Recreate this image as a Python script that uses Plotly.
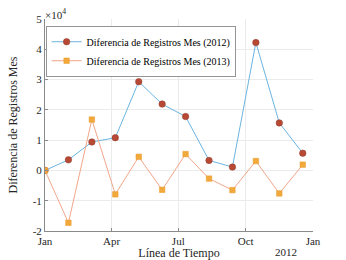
import plotly.graph_objects as go
import pandas as pd

dates = pd.date_range("2012-01-01", periods=12, freq="32D")
serie_2012 = [0, 3500, 9400, 10800, 29300, 21900, 17800, 3300, 1100, 42200, 15700, 5700]
serie_2013 = [0, -17300, 16800, -7900, 4500, -6400, 5400, -2700, -6500, 3100, -7600, 1900]
y_ticks = [-20000, -10000, 0, 10000, 20000, 30000, 40000, 50000]
y_tick_labels = ["-2", "-1", "0", "1", "2", "3", "4", "5"]
x_ticks = ["2012-01-01", "2012-04-01", "2012-07-01", "2012-10-01", "2013-01-01"]
x_tick_labels = ["Jan", "Apr", "Jul", "Oct", "Jan"]

font = "Times New Roman, Liberation Serif, serif"

fig = go.Figure()
fig.add_trace(go.Scatter(
    x=dates, y=serie_2012, mode="lines+markers",
    name="Diferencia de Registros Mes (2012)",
    line=dict(color="#6CB4E0", width=1),
    marker=dict(symbol="circle", size=6.5, color="#B84A35", line=dict(color="#8E3A2A", width=0.5)),
))
fig.add_trace(go.Scatter(
    x=dates, y=serie_2013, mode="lines+markers",
    name="Diferencia de Registros Mes (2013)",
    line=dict(color="#F2A68A", width=1),
    marker=dict(symbol="square", size=5.5, color="#F2A93B", line=dict(color="#E89A2A", width=0.5)),
))

fig.update_layout(
    width=346, height=260,
    margin=dict(l=45, r=33, t=19, b=29),
    paper_bgcolor="white", plot_bgcolor="white",
    font=dict(family=font, size=11, color="#262626"),
    showlegend=True,
    legend=dict(
        x=0.003, y=0.965, xanchor="left", yanchor="top",
        bgcolor="white", bordercolor="#7a7a7a", borderwidth=0.8,
        font=dict(family=font, size=10, color="#000000"),
        tracegroupgap=0, itemwidth=30,
    ),
    xaxis=dict(
        range=["2012-01-01", "2013-01-01"],
        tickvals=x_ticks, ticktext=x_tick_labels,
        tickfont=dict(family=font, size=11),
        showgrid=True, gridcolor="#EBEBEB", gridwidth=1,
        showline=True, linecolor="#8A8A8A", linewidth=1,
        ticks="inside", ticklen=3, tickcolor="#8A8A8A",
        zeroline=False, automargin=False,
        title=dict(text="Línea de Tiempo", font=dict(family=font, size=12), standoff=0),
    ),
    yaxis=dict(
        range=[-20000, 50000],
        tickvals=y_ticks, ticktext=y_tick_labels,
        tickfont=dict(family=font, size=11),
        showgrid=True, gridcolor="#EBEBEB", gridwidth=1,
        showline=True, linecolor="#8A8A8A", linewidth=1,
        ticks="inside", ticklen=3, tickcolor="#8A8A8A",
        zeroline=False, automargin=False,
        title=dict(text="Diferencia de Registros Mes", font=dict(family=font, size=12), standoff=12),
    ),
    annotations=[
        dict(text="×10<sup>4</sup>", x=0, y=1, xref="paper", yref="paper",
             xanchor="left", yanchor="bottom", showarrow=False,
             font=dict(family=font, size=11, color="#262626"), xshift=-2, yshift=-4),
        dict(text="2012", x=1, y=0, xref="paper", yref="paper",
             xanchor="right", yanchor="top", showarrow=False,
             font=dict(family=font, size=11, color="#262626"), xshift=-14, yshift=-13),
    ],
)

fig.write_html("out.html", config={"displayModeBar": False},
               post_script="document.body.style.margin='0';document.body.style.overflow='hidden';")
